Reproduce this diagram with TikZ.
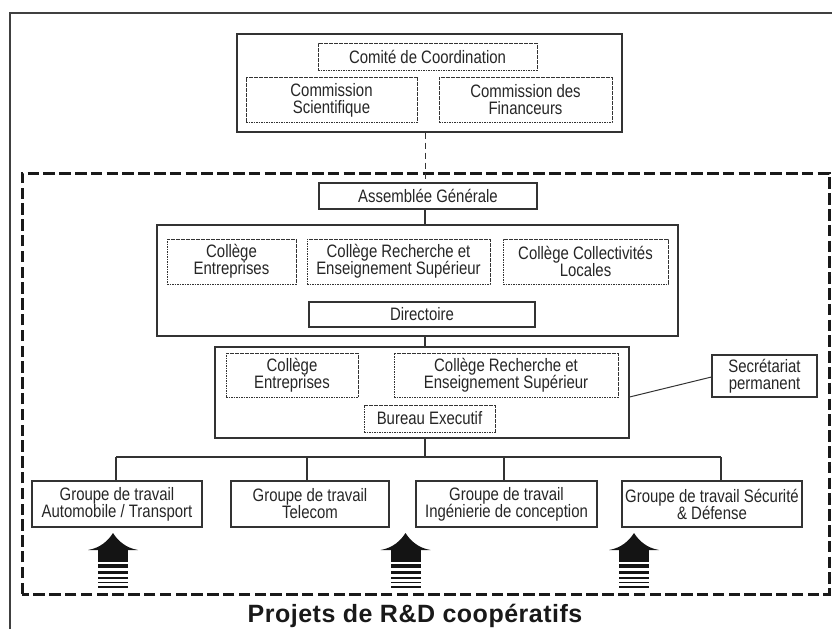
\documentclass[tikz,border=0pt]{standalone}
\usepackage{fontspec}
\setmainfont{Liberation Sans}[FakeStretch=0.83]
\newfontfamily\titlefont{Liberation Sans}[LetterSpace=2]
\usetikzlibrary{calc}
\tikzset{
  lbl/.style={inner sep=0pt, align=center, text=black!85,
    font=\fontsize{18}{17}\selectfont},
  solidbox/.style={lbl, draw=black!80, line width=1.1pt, fill=white},
  dotbox/.style={lbl, draw=black!80, line width=0.7pt, dash pattern=on 1.6pt off 0.9pt},
  link/.style={draw=black!80, line width=1.1pt},
  frame/.style={draw=black!90, line width=3pt, dash pattern=on 11.5pt off 4.3pt},
}
\begin{document}
\begin{tikzpicture}[x=1pt,y=-1pt]
\useasboundingbox (0,0) rectangle (832,629);
% outer frame
\draw[black!75, line width=1.3pt] (10,629) -- (10,13) -- (832,13);
% spine coordinate
\coordinate (sp) at (425,0);
\coordinate (bus) at (0,457);
% top group
\node[solidbox, minimum width=385, minimum height=98] (top) at (429.5,83) {};
\node[dotbox, minimum width=219, minimum height=27] (cc) at (427.5,56.5) {Comité de Coordination};
\node[dotbox, minimum width=171, minimum height=45] (cs) at (331.5,100) {Commission\\Scientifique};
\node[dotbox, minimum width=173, minimum height=45] (cf) at (525.5,99.5) {Commission des\\Financeurs};
% big dashed frame
\draw[frame] (22,594) -- (22,173) -- (829,173) -- (829,594) -- cycle;
% assemblée
\node[solidbox, minimum width=218, minimum height=26] (ag) at (428,196) {Assemblée Générale};
\draw[black!80, line width=1pt, dash pattern=on 6pt off 4pt] (top.south -| sp) -- (ag.north -| sp);
% box 2
\node[solidbox, minimum width=521, minimum height=111] (b2) at (417.5,280.5) {};
\node[dotbox, minimum width=129, minimum height=45] (ce1) at (231.5,261.5) {Collège\\Entreprises};
\node[dotbox, minimum width=183, minimum height=45] (cr1) at (398.5,261.5) {Collège Recherche et\\Enseignement Supérieur};
\node[dotbox, minimum width=165, minimum height=45] (cl) at (585.5,261.5) {Collège Collectivités\\Locales};
\node[solidbox, minimum width=226, minimum height=25] (dir) at (422,314.5) {Directoire};
\draw[link] (ag.south -| sp) -- (b2.north -| sp);
% box 3
\node[solidbox, minimum width=414, minimum height=91] (b3) at (422,392.5) {};
\node[dotbox, minimum width=132, minimum height=44] (ce2) at (292,375) {Collège\\Entreprises};
\node[dotbox, minimum width=224, minimum height=44] (cr2) at (506,375) {Collège Recherche et\\Enseignement Supérieur};
\node[dotbox, minimum width=131, minimum height=27] (be) at (429.5,418.5) {Bureau Executif};
\draw[link] (b2.south -| sp) -- (b3.north -| sp);
% secretariat
\node[solidbox, minimum width=105, minimum height=42] (sec) at (764.5,376) {Secrétariat\\permanent};
\draw[link, line width=1pt] (b3.east |- {(0,397)}) -- (sec.west |- {(0,377)});
% groups
\node[solidbox, minimum width=170, minimum height=46] (g1) at (117,504) {Groupe de travail\\Automobile / Transport};
\node[solidbox, minimum width=158, minimum height=46] (g2) at (310,504) {Groupe de travail\\Telecom};
\node[solidbox, minimum width=181, minimum height=46] (g3) at (506.5,504) {Groupe de travail\\Ingénierie de conception};
\node[solidbox, minimum width=180, minimum height=46] (g4) at (712,504) {Groupe de travail Sécurité\\\& Défense};
\coordinate (d1) at (116,457);
\coordinate (d2) at (307,457);
\coordinate (d3) at (504,457);
\coordinate (d4) at (721,457);
\draw[link] (b3.south -| sp) -- (sp |- bus);
\draw[link] (d1) -- (d4);
\draw[link] (d1) -- (g1.north -| d1);
\draw[link] (d2) -- (g2.north -| d2);
\draw[link] (d3) -- (g3.north -| d3);
\draw[link] (d4) -- (g4.north -| d4);
% striped arrows
\foreach \cx in {113,405.5,634}{
  \fill[black!92] (\cx-25,550) .. controls (\cx-13,548) and (\cx-5,541) .. (\cx,533)
     .. controls (\cx+5,541) and (\cx+13,548) .. (\cx+25,550) -- cycle;
  \fill[black!92] (\cx-15,549.5) rectangle (\cx+15,562);
  \foreach \ya/\yb in {564/568,571/573.5,576.5/578.5,581.5/583,586/587.5}
    \fill[black!92] (\cx-15,\ya) rectangle (\cx+15,\yb);
}
% title
\node[anchor=base, inner sep=0pt, text=black!90, font=\titlefont\bfseries\fontsize{25}{25}\selectfont] (title) at (415,622) {Projets de R\&D coopératifs};
\end{tikzpicture}
\end{document}
